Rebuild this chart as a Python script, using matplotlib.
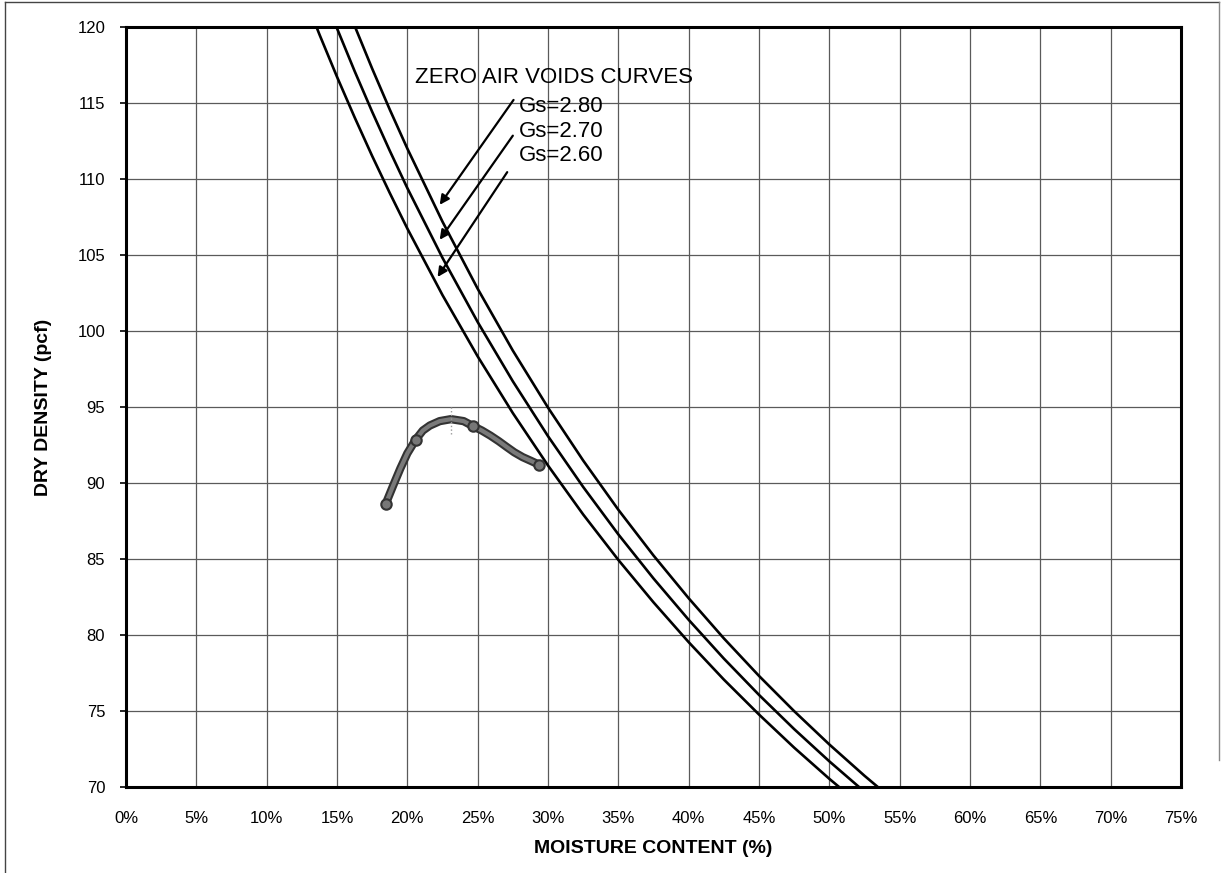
import matplotlib
matplotlib.use("Agg")
import matplotlib.pyplot as plt
from matplotlib.lines import Line2D

plt.rcParams['font.family'] = ['Liberation Sans', 'DejaVu Sans']

# ---------------- data ----------------
# Zero air voids curves (moisture %, dry density pcf)
zav_w = [12.5, 13.75, 15.0, 16.25, 17.5, 18.75, 20.0, 22.5, 25.0, 27.5, 30.0, 32.5, 35.0,
         37.5, 40.0, 42.5, 45.0, 47.5, 50.0, 52.5, 55.0]
zav_gs260 = [122.45, 119.51, 116.72, 114.06, 111.51, 109.08, 106.74, 102.36, 98.33, 94.60,
             91.15, 87.93, 84.94, 82.15, 79.53, 77.07, 74.77, 72.59, 70.54, 68.60, 66.77]
zav_gs270 = [125.97, 122.87, 119.91, 117.10, 114.42, 111.86, 109.40, 104.81, 100.59, 96.69,
             93.08, 89.74, 86.62, 83.72, 81.00, 78.45, 76.06, 73.81, 71.69, 69.69, 67.80]
zav_gs280 = [129.42, 126.15, 123.04, 120.08, 117.26, 114.57, 112.00, 107.19, 102.78, 98.71,
             94.96, 91.48, 88.24, 85.23, 82.42, 79.78, 77.31, 74.99, 72.80, 70.74, 68.79]

# Compaction test points
test_w = [18.45, 20.6, 24.65, 29.35]
test_d = [88.6, 92.86, 93.75, 91.21]
# smoothed compaction curve trace
trace_w = [18.45, 19.0, 19.5, 20.0, 20.6, 21.1, 21.6, 22.3, 23.1, 24.0, 24.65,
           25.3, 25.9, 26.5, 27.05, 27.6, 28.2, 28.8, 29.35]
trace_d = [88.6, 89.85, 90.95, 91.95, 92.86, 93.45, 93.78, 94.07, 94.2, 94.07, 93.75,
           93.45, 93.12, 92.75, 92.38, 92.02, 91.7, 91.45, 91.21]

x_ticks = [0, 5, 10, 15, 20, 25, 30, 35, 40, 45, 50, 55, 60, 65, 70, 75]
x_tick_labels = [f"{v}%" for v in x_ticks]
y_ticks = [70, 75, 80, 85, 90, 95, 100, 105, 110, 115, 120]

gs_labels = ["Gs=2.80", "Gs=2.70", "Gs=2.60"]
gs_label_pos = [(27.9, 114.8), (27.9, 113.15), (27.9, 111.55)]
arrow_tails = [(27.55, 115.2), (27.5, 112.85), (27.1, 110.45)]
arrow_heads = [(22.3, 108.3), (22.3, 106.0), (22.15, 103.55)]

# ---------------- figure ----------------
fig = plt.figure(figsize=(12.27, 8.73), dpi=100)
ax = fig.add_axes([0.1027, 0.0985, 0.8598, 0.8706])

ax.set_xlim(0, 75)
ax.set_ylim(70, 120)
ax.set_xticks(x_ticks)
ax.set_xticklabels(x_tick_labels)
ax.set_yticks(y_ticks)
ax.grid(True, color='#5a5a5a', linewidth=0.9)
ax.set_axisbelow(True)
for s in ax.spines.values():
    s.set_linewidth(2.2)
    s.set_color('black')
ax.tick_params(axis='x', length=0, pad=17, labelsize=12)
ax.tick_params(axis='y', length=4, width=1.2, pad=11, labelsize=12)

for ys in (zav_gs260, zav_gs270, zav_gs280):
    ax.plot(zav_w, ys, color='black', linewidth=1.9)

# compaction curve
ax.plot(trace_w, trace_d, color='#333333', linewidth=6.0, solid_capstyle='round')
ax.plot(trace_w, trace_d, color='#7a7a7a', linewidth=3.0, solid_capstyle='round')
ax.plot(test_w, test_d, linestyle='none', marker='o', markersize=7.5,
        markerfacecolor='#777777', markeredgecolor='#333333', markeredgewidth=1.5)
ax.plot([23.1, 23.1], [93.2, 95.0], linestyle=':', color='#999999', linewidth=1)

ax.text(20.55, 116.7, "ZERO AIR VOIDS CURVES", fontsize=16, va='center', ha='left')
for lab, (lx, ly) in zip(gs_labels, gs_label_pos):
    ax.text(lx, ly, lab, fontsize=16, va='center', ha='left')
for (tx, ty), (hx, hy) in zip(arrow_tails, arrow_heads):
    ax.annotate("", xy=(hx, hy), xytext=(tx, ty),
                arrowprops=dict(arrowstyle='-|>', color='black', lw=1.6,
                                mutation_scale=14, shrinkA=0, shrinkB=0,
                                facecolor='#777777'))

ax.set_xlabel("MOISTURE CONTENT (%)", fontsize=14, fontweight='bold', labelpad=10)
ax.set_ylabel("DRY DENSITY (pcf)", fontsize=14, fontweight='bold', labelpad=18)

# outer scanned frame
fig.add_artist(Line2D([5/1227, 5/1227], [0, 1 - 2/873], color='#444444', lw=1.0))
fig.add_artist(Line2D([5/1227, 1219/1227], [1 - 2/873, 1 - 2/873], color='#444444', lw=1.0))
fig.add_artist(Line2D([1219/1227, 1219/1227], [1 - 2/873, 1 - 760/873], color='#888888', lw=1.0))

fig.savefig("out.png", dpi=100)
